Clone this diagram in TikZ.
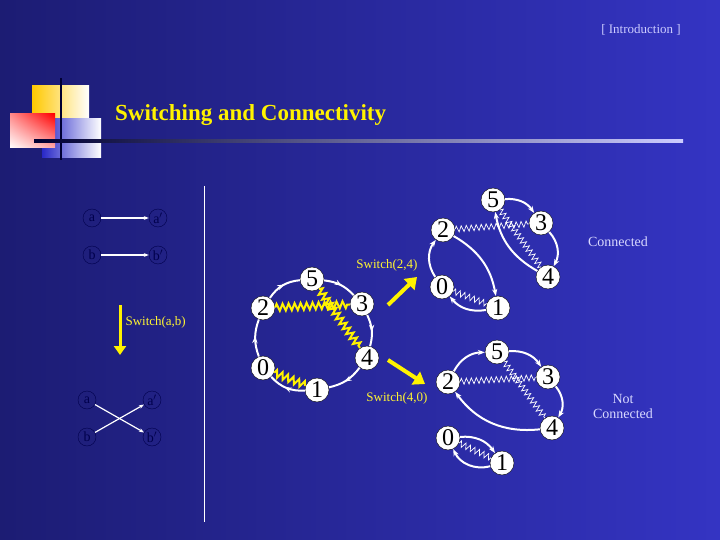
\documentclass[tikz,border=0pt]{standalone}
\usepackage{fontspec}
\setmainfont{Liberation Serif}
\usetikzlibrary{arrows.meta,decorations.pathmorphing,decorations.markings,shadings}
\begin{document}
\begin{tikzpicture}[x=1pt,y=-1pt,
  num/.style={circle,fill=white,draw=black,thin,inner sep=0pt,minimum size=24pt,font=\fontsize{24}{24}\selectfont},
  small/.style={circle,draw=black!70!blue,inner sep=0pt,minimum size=18pt,font=\fontsize{14}{14}\selectfont,text=black!70!blue},
  wa/.style={white,line width=2pt,-{Stealth[length=7pt]}},
  ma/.style={white,line width=2pt,postaction=decorate,decoration={markings,mark=at position 0.55 with {\arrow{Stealth[length=7pt]}}}},
  yz/.style={yellow,line width=2pt,decorate,decoration={zigzag,segment length=6pt,amplitude=3.5pt}},
  wz/.style={white,line width=0.7pt,decorate,decoration={zigzag,segment length=5pt,amplitude=3pt}},
  ya/.style={yellow,line width=4pt,-{Triangle[length=11pt,width=15pt]}},
  lbl/.style={text=yellow!80!white,font=\fontsize{13}{13}\selectfont},
  gl/.style={text=white!85!blue,font=\fontsize{14}{15}\selectfont,align=center}]
\useasboundingbox (0,0) rectangle (720,540);
\shade[left color={rgb,255:red,28;green,28;blue,115},right color={rgb,255:red,52;green,52;blue,195}] (0,0) rectangle (720,540);
% logo
\shade[left color={rgb,255:red,255;green,200;blue,0},right color=white] (32,86) rectangle (89,120);
\shade[left color={rgb,255:red,40;green,40;blue,200},right color=white] (42,119) rectangle (101,158);
\shade[upper right=red,lower left=white,upper left={rgb,255:red,255;green,140;blue,140},lower right={rgb,255:red,255;green,170;blue,170}] (10,114) rectangle (55,148);
\draw[black!80!blue,line width=2.5pt] (61,78) -- (61,160);
\shade[left color=black!80!blue,right color=white!80!blue] (34,139.5) rectangle (683,142.5);
\node[text=yellow,font=\bfseries\fontsize{23}{23}\selectfont,anchor=west,inner sep=0pt] (title) at (115,115) {Switching and Connectivity};
\node[text=white!80!blue,font=\fontsize{13}{13}\selectfont] (intro) at (641,30) {[ Introduction ]};
% separator
\coordinate (s1) at (204,186); \coordinate (s2) at (204,522);
\draw[white,line width=0.8pt] (s1) -- (s2);
% left small
\node[small] (a) at (92,218) {a}; \node[small] (ap) at (158,218) {a$'$};
\node[small] (b) at (92,255) {b}; \node[small] (bp) at (158,255) {b$'$};
\draw[white,line width=1.2pt,-{Stealth[length=5pt]}] (a) -- (ap);
\draw[white,line width=1.2pt,-{Stealth[length=5pt]}] (b) -- (bp);
\coordinate (y1) at (120,305); \coordinate (y2) at (120,355);
\draw[yellow,line width=3pt,-{Triangle[length=9pt,width=12pt]}] (y1) -- (y2);
\node[lbl,anchor=west] (swab) at (122,322) {Switch(a,b)};
\node[small] (a2) at (87,400) {a}; \node[small] (ap2) at (152,400) {a$'$};
\node[small] (b2) at (87,437) {b}; \node[small] (bp2) at (152,437) {b$'$};
\draw[white,line width=1.2pt,-{Stealth[length=5pt]}] (a2) -- (bp2);
\draw[white,line width=1.2pt,-{Stealth[length=5pt]}] (b2) -- (ap2);
% middle graph
\node[num] (m5) at (312,279) {5}; \node[num] (m3) at (362,304) {3};
\node[num] (m4) at (367,358) {4}; \node[num] (m1) at (317,390) {1};
\node[num] (m0) at (263,368) {0}; \node[num] (m2) at (263,308) {2};
\draw[ma] (m2) to[bend left=25] (m5);
\draw[ma] (m5) to[bend left=20] (m3);
\draw[ma] (m3) to[bend left=20] (m4);
\draw[ma] (m4) to[bend left=20] (m1);
\draw[ma] (m1) to[bend left=25] (m0);
\draw[ma] (m0) to[bend left=20] (m2);
\draw[yz] (m2) -- (m3);
\draw[yz] (m5) -- (m4);
\draw[yz] (m0) -- (m1);
% switch arrows
\coordinate (p1) at (388,305); \coordinate (p2) at (417,277);
\draw[ya] (p1) -- (p2);
\node[lbl] (s24) at (387,265) {Switch(2,4)};
\coordinate (q1) at (388,360); \coordinate (q2) at (425,384);
\draw[ya] (q1) -- (q2);
\node[lbl] (s40) at (397,398) {Switch(4,0)};
% top right
\node[num] (t5) at (493,200) {5}; \node[num] (t3) at (541,223) {3};
\node[num] (t4) at (548,277) {4}; \node[num] (t1) at (498,308) {1};
\node[num] (t0) at (442,287) {0}; \node[num] (t2) at (443,230) {2};
\draw[wz] (t2) -- (t3); \draw[wz] (t5) -- (t4); \draw[wz] (t0) -- (t1);
\draw[wa] (t5) to[bend left=30] (t3);
\draw[wa] (t3) to[bend left=35] (t4);
\draw[wa] (t4) to[bend left=25] (t5);
\draw[wa] (t2) to[bend left=25] (t1);
\draw[wa] (t1) to[bend left=30] (t0);
\draw[wa] (t0) to[bend left=35] (t2);
\node[gl] (con) at (618,242) {Connected};
% bottom right
\node[num] (b5) at (497,352) {5}; \node[num] (b3) at (548,377) {3};
\node[num] (b4) at (552,428) {4}; \node[num] (bb2) at (448,382) {2};
\node[num] (b0) at (448,438) {0}; \node[num] (b1) at (502,463) {1};
\draw[wz] (bb2) -- (b3); \draw[wz] (b5) -- (b4); \draw[wz] (b0) -- (b1);
\draw[wa] (bb2) to[bend left=30] (b5);
\draw[wa] (b5) to[bend left=30] (b3);
\draw[wa] (b3) to[bend left=35] (b4);
\draw[wa] (b4) to[bend left=30] (bb2);
\draw[wa] (b0) to[bend left=30] (b1);
\draw[wa] (b1) to[bend left=40] (b0);
\node[gl] (ncon) at (623,406) {Not\\Connected};
\end{tikzpicture}
\end{document}
